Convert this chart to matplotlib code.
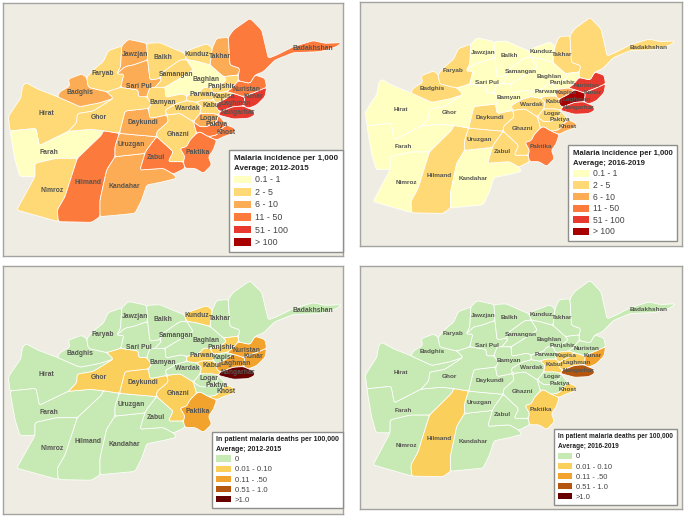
import math
import matplotlib
matplotlib.use("Agg")
import matplotlib.pyplot as plt
from matplotlib.patches import PathPatch, Patch
from matplotlib.path import Path

plt.rcParams['font.family'] = ['Liberation Sans', 'DejaVu Sans']

W, H = 685, 516

province_outlines = {
 'Hirat': [(78,248),(115,268),(172,290),(240,320),(300,308),(340,295),(280,333),(232,341),(230,368),(205,394),(118,437),(108,385),(30,393),(25,350),(48,315),(62,295),(68,258)],
 'Farah': [(30,393),(108,385),(118,437),(205,394),(270,388),(310,392),(305,405),(232,475),(170,475),(105,490),(105,530),(60,530),(45,480)],
 'Nimroz': [(105,490),(170,475),(232,475),(195,590),(172,630),(175,665),(50,630),(105,530)],
 'Hilmand': [(232,475),(305,405),(310,392),(358,400),(345,440),(345,470),(320,510),(300,600),(300,650),(275,667),(175,665),(172,630),(195,590)],
 'Kandahar': [(320,510),(345,470),(420,462),(435,460),(420,510),(490,505),(520,522),(530,535),(490,545),(440,555),(425,600),(405,640),(300,650),(300,600)],
 'Uruzgan': [(358,400),(410,405),(470,410),(440,450),(435,460),(420,462),(345,470),(345,440)],
 'Zabul': [(470,410),(520,455),(505,485),(550,485),(555,505),(520,522),(490,505),(420,510),(435,460),(440,450)],
 'Ghazni': [(500,345),(540,340),(580,365),(590,400),(570,420),(560,440),(540,445),(555,470),(550,485),(505,485),(520,455),(470,410),(470,395),(505,365)],
 'Paktika': [(590,400),(600,395),(625,410),(650,420),(640,450),(625,470),(635,495),(610,520),(585,505),(555,505),(550,485),(555,470),(540,445),(560,440),(570,420)],
 'Khost': [(680,375),(705,385),(700,400),(670,410),(650,420),(625,410),(650,405),(665,385)],
 'Paktya': [(600,380),(620,380),(650,365),(655,345),(680,375),(665,385),(650,405),(625,410),(600,395),(590,400),(580,365)],
 'Logar': [(600,340),(640,340),(655,345),(650,365),(620,380),(600,380),(580,365)],
 'Wardak': [(495,330),(530,310),(560,302),(590,307),(605,320),(600,340),(580,365),(540,340),(500,345)],
 'Kabul': [(605,300),(640,300),(650,310),(650,325),(660,335),(655,345),(640,340),(600,340),(605,320),(590,307)],
 'Daykundi': [(375,333),(445,325),(450,355),(500,345),(505,365),(470,395),(470,410),(410,405),(358,400)],
 'Ghor': [(320,275),(362,262),(415,270),(415,290),(440,290),(455,312),(445,325),(375,333),(358,400),(310,392),(270,388),(205,394),(230,368),(232,341),(280,333),(340,295)],
 'Badghis': [(205,237),(245,222),(260,232),(265,262),(320,275),(340,295),(300,308),(240,320),(172,290),(180,275),(210,258)],
 'Faryab': [(325,152),(365,138),(362,200),(350,222),(372,222),(362,262),(320,275),(265,262),(260,232),(285,205),(310,185)],
 'Jawzjan': [(365,138),(385,118),(440,130),(443,180),(400,195),(375,200),(350,222),(362,200)],
 'Sari Pul': [(350,222),(375,200),(400,195),(443,180),(450,240),(480,235),(485,240),(440,290),(415,290),(415,270),(362,262),(372,222)],
 'Balkh': [(440,130),(480,128),(530,150),(553,159),(560,179),(540,180),(490,215),(480,235),(450,240),(443,180)],
 'Samangan': [(490,215),(540,180),(560,179),(580,210),(540,235),(495,262),(450,262),(440,290),(485,240),(480,235)],
 'Kunduz': [(553,159),(570,149),(620,131),(637,144),(630,195),(590,184),(560,179)],
 'Takhar': [(637,144),(650,115),(685,112),(690,195),(720,205),(715,225),(670,230),(630,195)],
 'Baghlan': [(560,179),(590,184),(630,195),(670,230),(680,240),(660,255),(630,262),(610,262),(600,276),(560,287),(545,282),(497,292),(495,262),(540,235),(580,210)],
 'Bamyan': [(440,290),(450,262),(495,262),(497,292),(545,282),(560,287),(560,302),(530,310),(495,330),(500,345),(450,355),(445,325),(455,312)],
 'Parwan': [(560,287),(600,276),(610,262),(630,262),(640,280),(640,300),(605,300),(590,307),(560,302)],
 'Panjshir': [(670,230),(715,225),(715,242),(695,265),(680,275),(640,280),(630,262),(660,255),(680,240)],
 'Kapisa': [(640,280),(680,275),(700,280),(680,295),(650,310),(640,300)],
 'Laghman': [(700,280),(730,290),(735,295),(730,318),(700,320),(660,335),(650,325),(650,310),(680,295)],
 'Nuristan': [(715,242),(750,250),(765,225),(795,235),(800,262),(770,275),(730,290),(700,280),(680,275),(695,265)],
 'Kunar': [(800,262),(795,290),(770,315),(745,325),(730,318),(735,295),(730,290),(770,275)],
 'Nangarhar': [(745,325),(760,330),(765,345),(745,355),(700,357),(655,345),(660,335),(700,320),(730,318)],
 'Badakhshan': [(685,112),(700,90),(750,55),(785,90),(805,175),(830,165),(880,140),(940,122),(975,130),(1025,128),(1010,140),(960,155),(880,158),(825,180),(790,215),(765,225),(750,250),(715,242),(715,225),(720,205),(690,195)],
}
province_names = list(province_outlines)

label_positions = {
 'Hirat':(138,341),'Farah':(146,459),'Nimroz':(157,570),'Hilmand':(264,548),'Kandahar':(373,558),
 'Uruzgan':(394,435),'Zabul':(467,473),'Ghazni':(533,402),'Paktika':(592,457),'Khost':(679,396),
 'Paktya':(651,375),'Logar':(627,356),'Wardak':(561,325),'Kabul':(636,316),'Daykundi':(428,367),
 'Ghor':(297,353),'Badghis':(240,277),'Faryab':(308,221),'Jawzjan':(405,163),'Sari Pul':(418,259),
 'Balkh':(489,172),'Samangan':(527,223),'Kunduz':(592,162),'Takhar':(660,171),'Baghlan':(617,239),
 'Bamyan':(489,306),'Parwan':(606,285),'Panjshir':(662,259),'Kapisa':(672,290),'Laghman':(706,310),
 'Nuristan':(740,268),'Kunar':(760,288),'Nangarhar':(714,337),'Badakhshan':(939,147),
}

incidence_labels = ['0.1 - 1', '2 - 5', '6 - 10', '11 - 50', '51 - 100', '> 100']
incidence_colors = ['#FFFFC2', '#FED976', '#FDAC56', '#FC7B3C', '#E8392E', '#A80000']
deaths_labels = ['0', '0.01 - 0.10', '0.11 - .50', '0.51 - 1.0', '>1.0']
deaths_colors = ['#C7E9B4', '#FBCF5C', '#F2A32D', '#B4560F', '#680000']

incidence_2012 = dict(zip(province_names, [1,0,1,3,2,2,3,1,3,3,3,2,1,1,2,1,2,1,2,2,1,1,1,2,0,1,1,1,1,4,3,4,4,3]))
incidence_2016 = dict(zip(province_names, [0,0,0,1,0,1,1,1,3,2,1,1,1,1,1,0,1,1,0,0,0,0,0,1,0,0,0,0,2,5,4,4,4,1]))
deaths_2012 = dict(zip(province_names, [0,0,0,0,0,0,0,1,2,1,0,0,0,1,1,1,0,0,0,0,0,0,1,0,0,0,1,1,0,2,2,2,4,0]))
deaths_2016 = dict(zip(province_names, [0,0,0,1,0,0,0,0,1,1,0,0,0,1,0,0,0,0,0,0,0,0,0,0,0,0,0,0,1,1,0,2,3,0]))

panels = [
 dict(frame=(3,3,343,256), sx=1/3, ox=0, sy=1/3, oy=0, values=incidence_2012, colors=incidence_colors, labels=incidence_labels,
      title='Malaria incidence per 1,000\nAverage; 2012-2015', tfs=5.8, lfs=6.4, box=(343,252), mapfs=4.9, spacing=0.40),
 dict(frame=(360,2,682,246), sx=0.31, ox=357.6, sy=0.32, oy=0, values=incidence_2016, colors=incidence_colors, labels=incidence_labels,
      title='Malaria incidence per 1,000\nAverage; 2016-2019', tfs=5.6, lfs=6.2, box=(677,241), mapfs=4.6, spacing=0.30),
 dict(frame=(3,266,343,514), sx=1/3, ox=0, sy=0.3257, oy=263, values=deaths_2012, colors=deaths_colors, labels=deaths_labels,
      title='In patient malaria deaths per 100,000\nAverage; 2012-2015', tfs=5.05, lfs=5.6, box=(343,508), mapfs=4.9, spacing=0.28),
 dict(frame=(360,266,682,509), sx=0.31, ox=357.6, sy=0.3207, oy=262.8, values=deaths_2016, colors=deaths_colors, labels=deaths_labels,
      title='In patient malaria deaths per 100,000\nAverage; 2016-2019', tfs=4.7, lfs=5.4, box=(677,505), mapfs=4.6, spacing=0.32),
]


def rounded_outline(points, radius=7.0):
    """Closed path through the outline with its corners slightly rounded."""
    verts, codes = [], []
    n = len(points)
    for i, (x, y) in enumerate(points):
        px, py = points[i-1]
        nx, ny = points[(i+1) % n]
        d0 = math.hypot(px-x, py-y)
        d1 = math.hypot(nx-x, ny-y)
        r0 = min(radius, 0.4*d0) / d0
        r1 = min(radius, 0.4*d1) / d1
        a = (x + (px-x)*r0, y + (py-y)*r0)
        b = (x + (nx-x)*r1, y + (ny-y)*r1)
        verts += [a, (x, y), b]
        codes += [Path.MOVETO if i == 0 else Path.LINETO, Path.CURVE3, Path.CURVE3]
    verts.append(verts[0])
    codes.append(Path.CLOSEPOLY)
    return Path(verts, codes)


fig = plt.figure(figsize=(W/100, H/100), dpi=100, facecolor='white')

for p in panels:
    x0, y0, x1, y1 = p['frame']
    ax = fig.add_axes([x0/W, 1-y1/H, (x1-x0)/W, (y1-y0)/H])
    ax.set_facecolor('#EFEDE3')
    ax.set_xlim((x0-p['ox'])/p['sx'], (x1-p['ox'])/p['sx'])
    ax.set_ylim((y1-p['oy'])/p['sy'], (y0-p['oy'])/p['sy'])
    ax.set_xticks([]); ax.set_yticks([])
    for s in ax.spines.values():
        s.set_edgecolor('#A3A3A0'); s.set_linewidth(1.0)
    for name in province_names:
        ax.add_patch(PathPatch(rounded_outline(province_outlines[name]),
                               facecolor=p['colors'][p['values'][name]],
                               edgecolor='white', linewidth=0.55, joinstyle='round'))
    for name in province_names:
        lx, ly = label_positions[name]
        ax.text(lx, ly, name, fontsize=p['mapfs'], fontweight='bold', color='#555550',
                ha='center', va='center', zorder=5)
    handles = [Patch(facecolor=c, edgecolor='none', label=l) for c, l in zip(p['colors'], p['labels'])]
    bx1, by1 = p['box']
    leg = ax.legend(handles=handles, title=p['title'], loc='lower right',
                    bbox_to_anchor=(bx1/W, 1-by1/H), bbox_transform=fig.transFigure,
                    fontsize=p['lfs'], title_fontproperties=dict(weight='bold', size=p['tfs']),
                    alignment='left', fancybox=False, framealpha=1, facecolor='white',
                    edgecolor='#8E8E8C', borderaxespad=0, borderpad=0.55,
                    labelspacing=p['spacing'], handlelength=1.9, handleheight=0.9, handletextpad=0.5)
    leg.get_frame().set_linewidth(1.0)
    leg.set_zorder(10)
    for t in leg.get_texts():
        t.set_color('#444444')
    leg.get_title().set_color('#222222')
    leg.get_title().set_linespacing(1.6)

fig.savefig('out.png', dpi=100, facecolor='white')
